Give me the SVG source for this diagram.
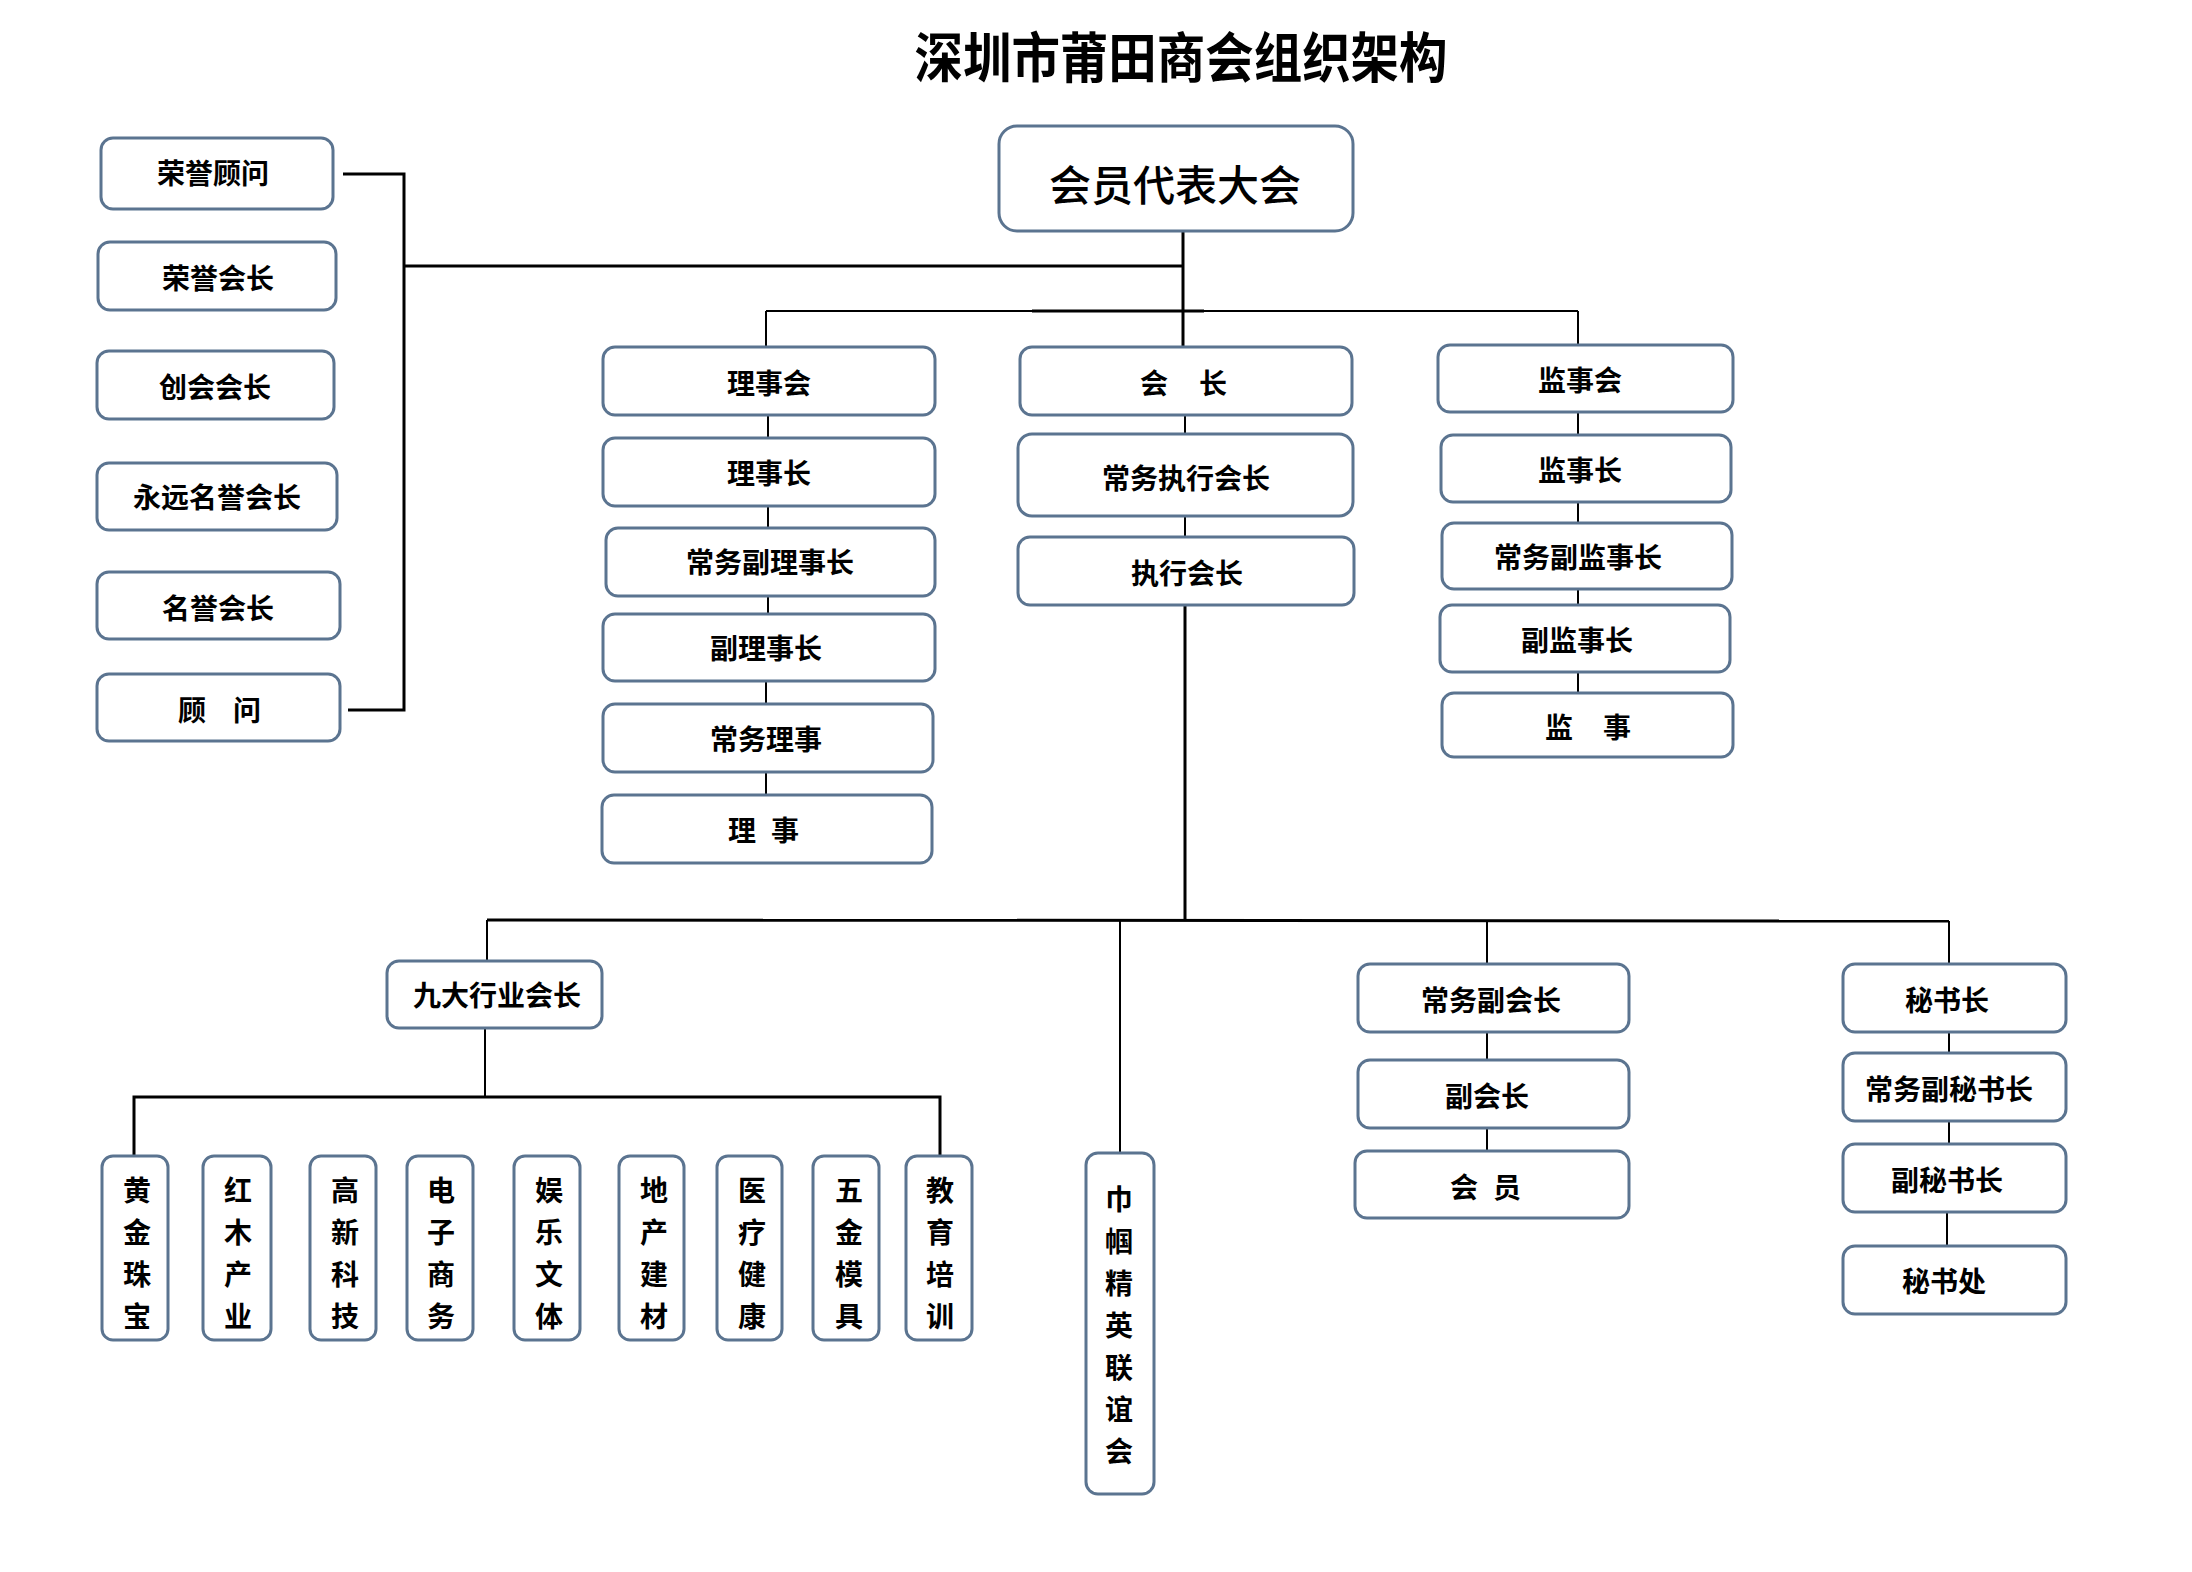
<svg xmlns="http://www.w3.org/2000/svg" width="2192" height="1572" viewBox="0 0 2192 1572">
<style>
  .bx { fill: #ffffff; stroke: #5b7490; stroke-width: 3; }
  .t { font-family: "Noto Sans CJK SC", "Noto Sans CJK TC", sans-serif; font-size: 28px; font-weight: 700; fill: #000; text-anchor: middle; dominant-baseline: central; }
  .title { font-family: "Noto Sans CJK SC", "Noto Sans CJK TC", sans-serif; font-size: 54px; font-weight: 700; fill: #000; text-anchor: middle; dominant-baseline: central; }
  .big { font-size: 42px; font-weight: 500; }
  .ln { stroke: #000; stroke-width: 2; fill: none; }
  .lnb { stroke: #000; stroke-width: 3; fill: none; }
</style>
<rect width="2192" height="1572" fill="#ffffff"/>
<text class="title" x="1181" y="54" textLength="533" lengthAdjust="spacingAndGlyphs">深圳市莆田商会组织架构</text>

<g id="connectors">
  <line class="lnb" x1="1183" y1="231" x2="1183" y2="347"/>
  <line class="lnb" x1="404" y1="266" x2="1183" y2="266"/>
  <polyline class="lnb" points="343,174 404,174 404,710 348,710"/>
  <line class="ln" x1="766" y1="311" x2="1578" y2="311"/>
  <line class="lnb" x1="1032" y1="311" x2="1204" y2="311"/>
  <line class="ln" x1="766" y1="311" x2="766" y2="347"/>
  <line class="ln" x1="1578" y1="311" x2="1578" y2="345"/>
  <line class="ln" x1="768" y1="415" x2="768" y2="438"/>
  <line class="ln" x1="768" y1="506" x2="768" y2="528"/>
  <line class="ln" x1="768" y1="596" x2="768" y2="614"/>
  <line class="ln" x1="766" y1="681" x2="766" y2="704"/>
  <line class="ln" x1="766" y1="772" x2="766" y2="795"/>
  <line class="ln" x1="1185" y1="415" x2="1185" y2="434"/>
  <line class="ln" x1="1185" y1="516" x2="1185" y2="537"/>
  <line class="lnb" x1="1185" y1="605" x2="1185" y2="921"/>
  <line class="ln" x1="1578" y1="412" x2="1578" y2="435"/>
  <line class="ln" x1="1578" y1="502" x2="1578" y2="523"/>
  <line class="ln" x1="1578" y1="589" x2="1578" y2="605"/>
  <line class="ln" x1="1578" y1="672" x2="1578" y2="693"/>
  <line class="lnb" x1="487" y1="920" x2="1949" y2="921"/>
  <line class="ln" x1="487" y1="920" x2="487" y2="961"/>
  <line class="ln" x1="1120" y1="921" x2="1120" y2="1153"/>
  <line class="ln" x1="1487" y1="921" x2="1487" y2="964"/>
  <line class="ln" x1="1949" y1="921" x2="1949" y2="964"/>
  <line class="ln" x1="485" y1="1028" x2="485" y2="1097"/>
  <polyline class="lnb" points="134,1157 134,1097 940,1097 940,1157"/>
  <line class="ln" x1="1487" y1="1032" x2="1487" y2="1060"/>
  <line class="ln" x1="1487" y1="1128" x2="1487" y2="1151"/>
  <line class="ln" x1="1949" y1="1032" x2="1949" y2="1053"/>
  <line class="ln" x1="1949" y1="1121" x2="1949" y2="1144"/>
  <line class="ln" x1="1947" y1="1212" x2="1947" y2="1246"/>
</g>

<g id="n-dahui"><rect class="bx" x="999" y="126" width="354" height="105" rx="18"/><text class="t big" x="1175" y="182">会员代表大会</text></g>

<g id="n-rygw"><rect class="bx" x="101" y="138" width="232" height="71" rx="12"/><text class="t" x="213" y="172">荣誉顾问</text></g>
<g id="n-ryhz"><rect class="bx" x="98" y="242" width="238" height="68" rx="12"/><text class="t" x="218" y="277">荣誉会长</text></g>
<g id="n-chhz"><rect class="bx" x="97" y="351" width="237" height="68" rx="12"/><text class="t" x="215" y="386">创会会长</text></g>
<g id="n-yymy"><rect class="bx" x="97" y="463" width="240" height="67" rx="12"/><text class="t" x="217" y="496">永远名誉会长</text></g>
<g id="n-myhz"><rect class="bx" x="97" y="572" width="243" height="67" rx="12"/><text class="t" x="218" y="607">名誉会长</text></g>
<g id="n-gw"><rect class="bx" x="97" y="674" width="243" height="67" rx="12"/><text class="t" x="192 247" y="709">顾问</text></g>

<g id="n-lsh"><rect class="bx" x="603" y="347" width="332" height="68" rx="12"/><text class="t" x="769" y="382">理事会</text></g>
<g id="n-lsz"><rect class="bx" x="603" y="438" width="332" height="68" rx="12"/><text class="t" x="769" y="472">理事长</text></g>
<g id="n-cwflsz"><rect class="bx" x="606" y="528" width="329" height="68" rx="12"/><text class="t" x="770" y="561">常务副理事长</text></g>
<g id="n-flsz"><rect class="bx" x="603" y="614" width="332" height="67" rx="12"/><text class="t" x="766" y="647">副理事长</text></g>
<g id="n-cwls"><rect class="bx" x="603" y="704" width="330" height="68" rx="12"/><text class="t" x="766" y="738">常务理事</text></g>
<g id="n-ls"><rect class="bx" x="602" y="795" width="330" height="68" rx="12"/><text class="t" x="742 785" y="829">理事</text></g>

<g id="n-hz"><rect class="bx" x="1020" y="347" width="332" height="68" rx="12"/><text class="t" x="1154 1213" y="382">会长</text></g>
<g id="n-cwzxhz"><rect class="bx" x="1018" y="434" width="335" height="82" rx="14"/><text class="t" x="1186" y="477">常务执行会长</text></g>
<g id="n-zxhz"><rect class="bx" x="1018" y="537" width="336" height="68" rx="12"/><text class="t" x="1187" y="572">执行会长</text></g>

<g id="n-jsh"><rect class="bx" x="1438" y="345" width="295" height="67" rx="12"/><text class="t" x="1580" y="379">监事会</text></g>
<g id="n-jsz"><rect class="bx" x="1441" y="435" width="290" height="67" rx="12"/><text class="t" x="1580" y="469">监事长</text></g>
<g id="n-cwfjsz"><rect class="bx" x="1442" y="523" width="290" height="66" rx="12"/><text class="t" x="1578" y="556">常务副监事长</text></g>
<g id="n-fjsz"><rect class="bx" x="1440" y="605" width="290" height="67" rx="12"/><text class="t" x="1577" y="639">副监事长</text></g>
<g id="n-js"><rect class="bx" x="1442" y="693" width="291" height="64" rx="12"/><text class="t" x="1559 1617" y="726">监事</text></g>

<g id="n-jdhy"><rect class="bx" x="387" y="961" width="215" height="67" rx="12"/><text class="t" x="497" y="994">九大行业会长</text></g>

<g id="n-hjzb"><rect class="bx" x="102" y="1156" width="66" height="184" rx="11"/><text class="t" x="137 137 137 137" y="1189 1231 1273 1315">黄金珠宝</text></g>
<g id="n-hmcy"><rect class="bx" x="203" y="1156" width="68" height="184" rx="11"/><text class="t" x="238 238 238 238" y="1189 1231 1273 1315">红木产业</text></g>
<g id="n-gxkj"><rect class="bx" x="310" y="1156" width="66" height="184" rx="11"/><text class="t" x="345 345 345 345" y="1189 1231 1273 1315">高新科技</text></g>
<g id="n-dzsw"><rect class="bx" x="407" y="1156" width="66" height="184" rx="11"/><text class="t" x="441 441 441 441" y="1189 1231 1273 1315">电子商务</text></g>
<g id="n-ylwt"><rect class="bx" x="514" y="1156" width="66" height="184" rx="11"/><text class="t" x="549 549 549 549" y="1189 1231 1273 1315">娱乐文体</text></g>
<g id="n-dcjc"><rect class="bx" x="619" y="1156" width="65" height="184" rx="11"/><text class="t" x="654 654 654 654" y="1189 1231 1273 1315">地产建材</text></g>
<g id="n-yljk"><rect class="bx" x="717" y="1156" width="65" height="184" rx="11"/><text class="t" x="752 752 752 752" y="1189 1231 1273 1315">医疗健康</text></g>
<g id="n-wjmj"><rect class="bx" x="813" y="1156" width="66" height="184" rx="11"/><text class="t" x="849 849 849 849" y="1189 1231 1273 1315">五金模具</text></g>
<g id="n-jypx"><rect class="bx" x="906" y="1156" width="66" height="184" rx="11"/><text class="t" x="940 940 940 940" y="1189 1231 1273 1315">教育培训</text></g>

<g id="n-jgjy"><rect class="bx" x="1086" y="1153" width="68" height="341" rx="12"/><text class="t" x="1119 1119 1119 1119 1119 1119 1119" y="1198 1240 1282 1324 1366 1408 1450">巾帼精英联谊会</text></g>

<g id="n-cwfhz"><rect class="bx" x="1358" y="964" width="271" height="68" rx="12"/><text class="t" x="1491" y="999">常务副会长</text></g>
<g id="n-fhz"><rect class="bx" x="1358" y="1060" width="271" height="68" rx="12"/><text class="t" x="1487" y="1095">副会长</text></g>
<g id="n-hy"><rect class="bx" x="1355" y="1151" width="274" height="67" rx="12"/><text class="t" x="1464 1507" y="1186">会员</text></g>

<g id="n-msz"><rect class="bx" x="1843" y="964" width="223" height="68" rx="12"/><text class="t" x="1947" y="999">秘书长</text></g>
<g id="n-cwfmsz"><rect class="bx" x="1843" y="1053" width="223" height="68" rx="12"/><text class="t" x="1949" y="1088">常务副秘书长</text></g>
<g id="n-fmsz"><rect class="bx" x="1843" y="1144" width="223" height="68" rx="12"/><text class="t" x="1947" y="1179">副秘书长</text></g>
<g id="n-msc"><rect class="bx" x="1843" y="1246" width="223" height="68" rx="12"/><text class="t" x="1944" y="1280">秘书处</text></g>
</svg>
